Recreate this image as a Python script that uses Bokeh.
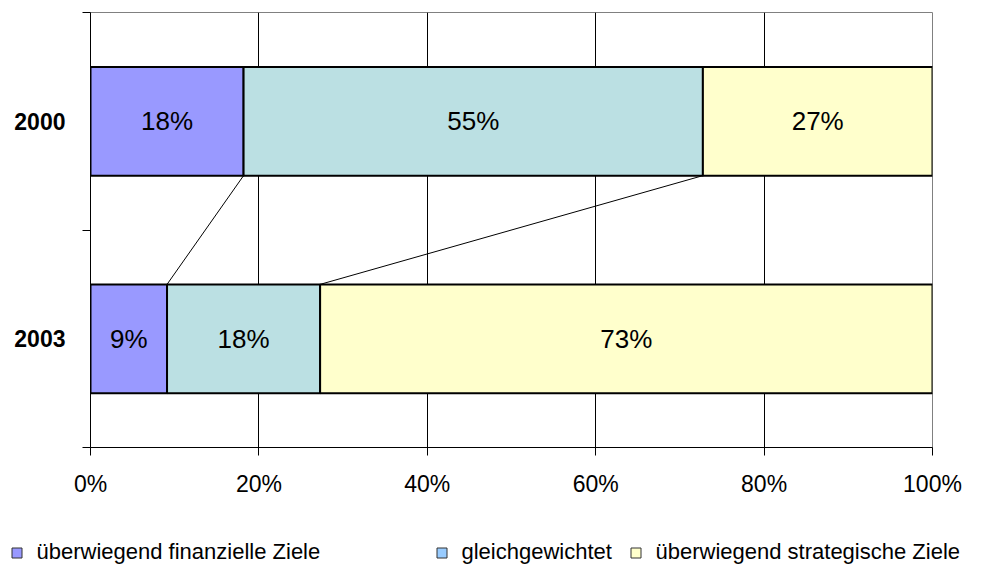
from bokeh.plotting import figure
from bokeh.layouts import column
from bokeh.models import ColumnDataSource, Range1d, FixedTicker, Legend, LegendItem
from bokeh.embed import file_html
from bokeh.resources import INLINE
from bokeh.core.properties import value

# ---------------- data ----------------
years = ["2000", "2003"]
year_pos = [1.5, 0.5]
series_names = ["überwiegend finanzielle Ziele", "gleichgewichtet", "überwiegend strategische Ziele"]
finanziell = [18.18, 9.09]
gleichgewichtet = [54.55, 18.18]
strategisch = [27.27, 72.73]
x_ticks = [0, 20, 40, 60, 80, 100]
x_tick_labels = ["0%", "20%", "40%", "60%", "80%", "100%"]

# ---------------- styles ----------------
bar_colors = ["#9999FF", "#BBE0E3", "#FFFFCC"]
legend_colors = ["#9999FF", "#99CCFF", "#FFFFCC"]
bar_height = 0.5
FONT = "Liberation Sans"

p = figure(width=987, height=510, x_range=Range1d(0, 100), y_range=Range1d(0, 2),
           output_backend="svg", toolbar_location=None,
           min_border_left=90, min_border_right=55, min_border_top=12, min_border_bottom=63)
p.background_fill_color = "white"
p.border_fill_color = "white"
p.outline_line_color = "#808080"
p.outline_line_width = 1

# grid
p.ygrid.visible = False
p.xgrid.ticker = FixedTicker(ticks=[t for t in x_ticks if 0 < t < 100])
p.xgrid.grid_line_color = "black"
p.xgrid.grid_line_width = 1

# x axis
xa = p.xaxis[0]
xa.ticker = FixedTicker(ticks=x_ticks, minor_ticks=[])
xa.major_label_overrides = {t: l for t, l in zip(x_ticks, x_tick_labels)}
xa.axis_line_color = "black"
xa.major_tick_line_color = "black"
xa.major_tick_out = 8
xa.major_tick_in = 0
xa.minor_tick_line_color = None
xa.major_label_standoff = 15
xa.major_label_text_font = FONT
xa.major_label_text_font_size = "23px"
xa.major_label_text_color = "black"

# y axis (category labels at centres, ticks at boundaries)
ya = p.yaxis[0]
ya.ticker = FixedTicker(ticks=year_pos, minor_ticks=[0, 1, 2])
ya.major_label_overrides = {pos: yr for pos, yr in zip(year_pos, years)}
ya.axis_line_color = "black"
ya.major_tick_line_color = None
ya.major_tick_out = 0
ya.major_tick_in = 0
ya.minor_tick_line_color = "black"
ya.minor_tick_out = 8
ya.minor_tick_in = 0
ya.major_label_standoff = 17
ya.major_label_text_font = FONT
ya.major_label_text_font_size = "23px"
ya.major_label_text_font_style = "bold"
ya.major_label_text_color = "black"

# stacked bars
all_series = [finanziell, gleichgewichtet, strategisch]
lefts = [0.0] * len(years)
ends = []
lab_x, lab_y, lab_t = [], [], []
for vals, col in zip(all_series, bar_colors):
    rights = [l + v for l, v in zip(lefts, vals)]
    src = ColumnDataSource(dict(y=year_pos, left=lefts, right=rights))
    p.hbar(y="y", left="left", right="right", height=bar_height, source=src,
           fill_color=col, line_color="black", line_width=2)
    for l, v, yp in zip(lefts, vals, year_pos):
        lab_x.append(l + v / 2)
        lab_y.append(yp)
        lab_t.append(f"{round(v)}%")
    ends.append(rights)
    lefts = rights

# series lines between the bars
top_idx, bot_idx = 0, 1
x0 = [ends[0][top_idx], ends[1][top_idx]]
x1 = [ends[0][bot_idx], ends[1][bot_idx]]
y0 = [year_pos[top_idx] - bar_height / 2] * 2
y1 = [year_pos[bot_idx] + bar_height / 2] * 2
p.segment(x0=x0, y0=y0, x1=x1, y1=y1, line_color="black", line_width=1)

# value labels
p.text(x=lab_x, y=lab_y, text=lab_t, text_align="center", text_baseline="middle",
       text_font=value(FONT), text_font_size="26px", text_color="black")

# ---------------- legend strip ----------------
lg = figure(width=987, height=55, x_range=Range1d(0, 1), y_range=Range1d(0, 1),
            output_backend="svg", toolbar_location=None,
            x_axis_location=None, y_axis_location=None,
            min_border_left=0, min_border_right=0, min_border_top=0, min_border_bottom=0)
lg.frame_align = False
lg.grid.visible = False
lg.outline_line_color = None
lg.background_fill_color = "white"
lg.border_fill_color = "white"

nan = float("nan")
leg_x = [3.5, 428.5, 622.5]
for name, col, lx in zip(series_names, legend_colors, leg_x):
    r = lg.scatter(x=[nan], y=[nan], marker="square", size=10, fill_color=col,
                   line_color="#333333", line_width=1)
    leg = Legend(items=[LegendItem(label=name, renderers=[r])], location=(lx, 0),
                 orientation="horizontal", glyph_width=25, glyph_height=25,
                 label_standoff=8, padding=0, margin=0, spacing=0,
                 border_line_color=None, background_fill_alpha=0,
                 label_text_font=FONT, label_text_font_size="22px", label_text_color="black")
    lg.add_layout(leg)

layout = column(p, lg, spacing=0)
open("out.html", "w").write(file_html(layout, INLINE))
